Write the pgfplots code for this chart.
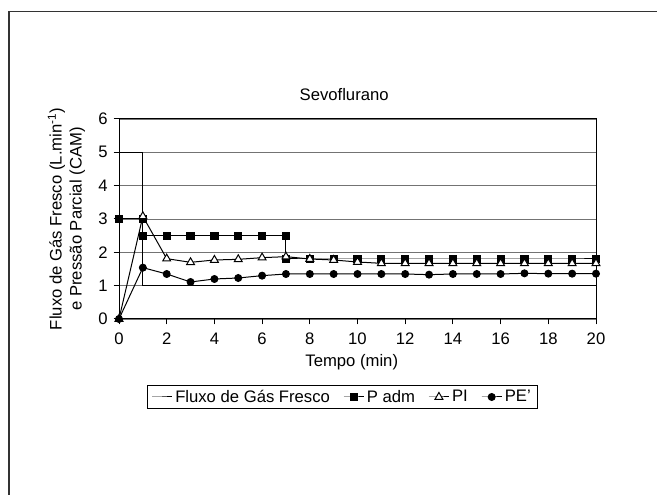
\documentclass[border=0pt]{standalone}
\usepackage{pgfplots}
\pgfplotsset{compat=1.18}
\usepackage{fontspec}
\setmainfont{Liberation Sans}
\newcommand{\fs}{\fontsize{12.5}{15}\selectfont}
\begin{document}
\begin{tikzpicture}[x=1pt,y=1pt]
\useasboundingbox (0,0) rectangle (492.75,371.25);
\draw[line width=1pt,black!80] (6.75,-2) -- (6.75,362.6) -- (495,362.6);
\begin{axis}[
  at={(89.25pt,132pt)}, anchor=south west,
  scale only axis, width=357.75pt, height=150pt,
  xmin=0, xmax=20, ymin=0, ymax=6,
  xtick={0,2,...,20}, ytick={0,1,...,6},
  ymajorgrids, grid style={black!55, line width=0.7pt},
  axis line style={black, line width=0.75pt},
  tick align=outside, tick pos=left, major tick length=4pt,
  tick style={black, line width=0.75pt},
  /pgf/number format/assume math mode=true,
  tick label style={font=\fs},
  yticklabel style={xshift=-1pt},
  xticklabel style={yshift=-3pt},
  title={Sevoflurano},
  title style={font=\fs, at={(0.472,1.08)}, anchor=center},
  xlabel={Tempo (min)},
  every axis x label/.style={font=\fs, at={(axis description cs:0.488,-0.215)}, anchor=center},
  ylabel={Fluxo de Gás Fresco (L.min\textsuperscript{-1})\\e Pressão Parcial (CAM)},
  every axis y label/.style={font=\fs, align=center, at={(axis description cs:-0.11,0.5)}, anchor=center, rotate=90},
  clip=false,
  legend columns=4,
  legend style={font=\fs, at={(0.4686,-0.39)}, anchor=center, draw=black, line width=0.6pt,
    inner xsep=3pt, inner ysep=1pt, /tikz/every even column/.append style={column sep=8pt}},
  legend image code/.code={\draw[mark repeat=2,mark phase=2,#1] plot coordinates {(0pt,0pt) (7.5pt,0pt) (15pt,0pt)};},
  every axis plot/.append style={black, line width=0.75pt},
]
\addplot[no marks] coordinates {(0,5) (1,5) (1,1) (20,1)};
\addlegendentry{Fluxo de Gás Fresco}
\addplot[mark=square*, mark size=2.7pt, mark options={fill=black}] coordinates {
(0,3) (1,3) (1,2.5) (2,2.5) (3,2.5) (4,2.5) (5,2.5) (6,2.5) (7,2.5) (7,1.8)
(8,1.8) (9,1.8) (10,1.8) (11,1.8) (12,1.8) (13,1.8) (14,1.8) (15,1.8) (16,1.8)
(17,1.8) (18,1.8) (19,1.8) (20,1.8)};
\addlegendentry{P adm}
\addplot[mark=triangle*, mark size=3.4pt, mark options={fill=white}] coordinates {
(0,0) (1,3.08) (2,1.81) (3,1.70) (4,1.77) (5,1.79) (6,1.84) (7,1.87) (8,1.80)
(9,1.77) (10,1.71) (11,1.67) (12,1.67) (13,1.67) (14,1.67) (15,1.67) (16,1.67)
(17,1.67) (18,1.67) (19,1.67) (20,1.67)};
\addlegendentry{PI}
\addplot[mark=*, mark size=2.6pt, mark options={fill=black}] coordinates {
(0,0) (1,1.54) (2,1.35) (3,1.11) (4,1.20) (5,1.23) (6,1.30) (7,1.35) (8,1.35)
(9,1.35) (10,1.35) (11,1.35) (12,1.35) (13,1.33) (14,1.35) (15,1.35) (16,1.35)
(17,1.37) (18,1.36) (19,1.36) (20,1.36)};
\addlegendentry{PE'}
\end{axis}
\end{tikzpicture}
\end{document}
